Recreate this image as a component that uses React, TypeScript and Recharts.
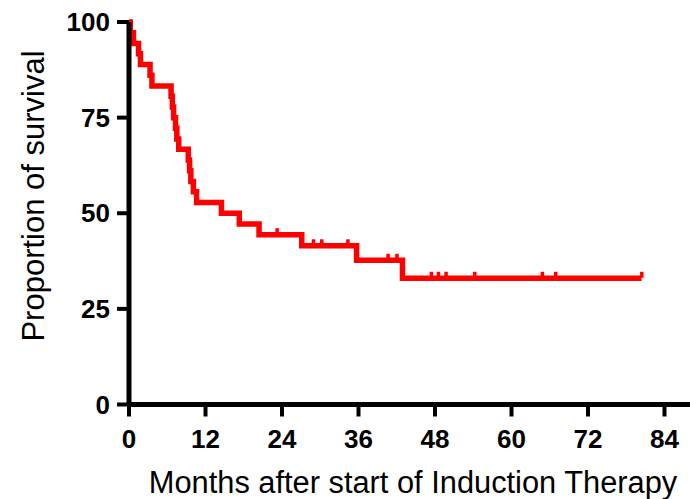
import React from "react";
import { LineChart, Line, XAxis, YAxis, Label } from "recharts";

const eventMonths = [0, 0.2, 0.7, 1.5, 1.8, 3.3, 3.6, 6.6, 6.8, 7.0, 7.3, 7.5, 7.8, 9.3, 9.5, 9.7, 10.1, 10.6, 14.5, 17.3, 20.4, 27.1, 35.7, 42.9];
const eventSurvival = [100, 97.2, 94.4, 91.7, 88.9, 86.1, 83.3, 80.6, 77.8, 75.0, 72.2, 69.4, 66.7, 63.9, 61.1, 58.3, 55.6, 52.8, 50.0, 47.2, 44.4, 41.5, 37.7, 33.0];
const censorMonths = [23.2, 28.9, 30.2, 34.3, 40.6, 42.0, 47.4, 48.5, 49.7, 54.2, 64.8, 66.9, 80.4];
const xTicks = [0, 12, 24, 36, 48, 60, 72, 84];
const yTicks = [0, 25, 50, 75, 100];
const xTitle = "Months after start of Induction Therapy";
const yTitle = "Proportion of survival";

function levelAt(m: number): number {
  let s = 100;
  for (let i = 0; i < eventMonths.length; i++) {
    if (eventMonths[i] <= m) s = eventSurvival[i];
  }
  return s;
}

const rows = [
  ...eventMonths.map((m, i) => ({ m, s: eventSurvival[i], c: 0 })),
  ...censorMonths.map((m) => ({ m, s: levelAt(m), c: 1 })),
].sort((a, b) => a.m - b.m);

const FONT = "'Liberation Sans', Arial, Helvetica, sans-serif";

const CensorDot = (props: any) => {
  const { cx, cy, payload, index } = props;
  if (!payload || payload.c !== 1 || cx == null || cy == null) return <g key={`d${index}`} />;
  return <rect key={`d${index}`} x={cx - 1.5} y={cy - 6.5} width={3.5} height={6} fill="#ff0000" />;
};

export default function App() {
  return (
    <div style={{ position: "absolute", left: 0, top: 0, width: 690, height: 499, background: "#fff" }}>
      <LineChart width={690} height={499} data={rows} margin={{ top: 22, right: 0, left: 0, bottom: 0 }}>
        <XAxis
          dataKey="m"
          type="number"
          domain={[0, 88]}
          ticks={xTicks}
          interval={0}
          height={94.5}
          axisLine={{ stroke: "#000", strokeWidth: 5 }}
          tickLine={{ stroke: "#000", strokeWidth: 4 }}
          tickSize={12}
          tickMargin={13}
          tick={{ fontSize: 26, fontWeight: "bold", fill: "#000", fontFamily: FONT }}
        >
          <Label
            content={() => (
              <text x={413} y={493} textAnchor="middle" fontSize={30.8} fontFamily={FONT} fill="#000">
                {xTitle}
              </text>
            )}
          />
        </XAxis>
        <YAxis
          type="number"
          domain={[0, 100]}
          ticks={yTicks}
          interval={0}
          width={129}
          axisLine={{ stroke: "#000", strokeWidth: 5 }}
          tickLine={{ stroke: "#000", strokeWidth: 4 }}
          tickSize={12}
          tickMargin={7}
          tick={{ fontSize: 26, fontWeight: "bold", fill: "#000", fontFamily: FONT }}
        >
          <Label
            content={() => (
              <text
                x={43.5}
                y={196}
                textAnchor="middle"
                fontSize={31}
                fontFamily={FONT}
                fill="#000"
                transform="rotate(-90 43.5 196)"
              >
                {yTitle}
              </text>
            )}
          />
        </YAxis>
        <Line
          type="stepAfter"
          dataKey="s"
          stroke="#ff0000"
          strokeWidth={5.5}
          dot={CensorDot}
          activeDot={false}
          isAnimationActive={false}
        />
      </LineChart>
    </div>
  );
}
